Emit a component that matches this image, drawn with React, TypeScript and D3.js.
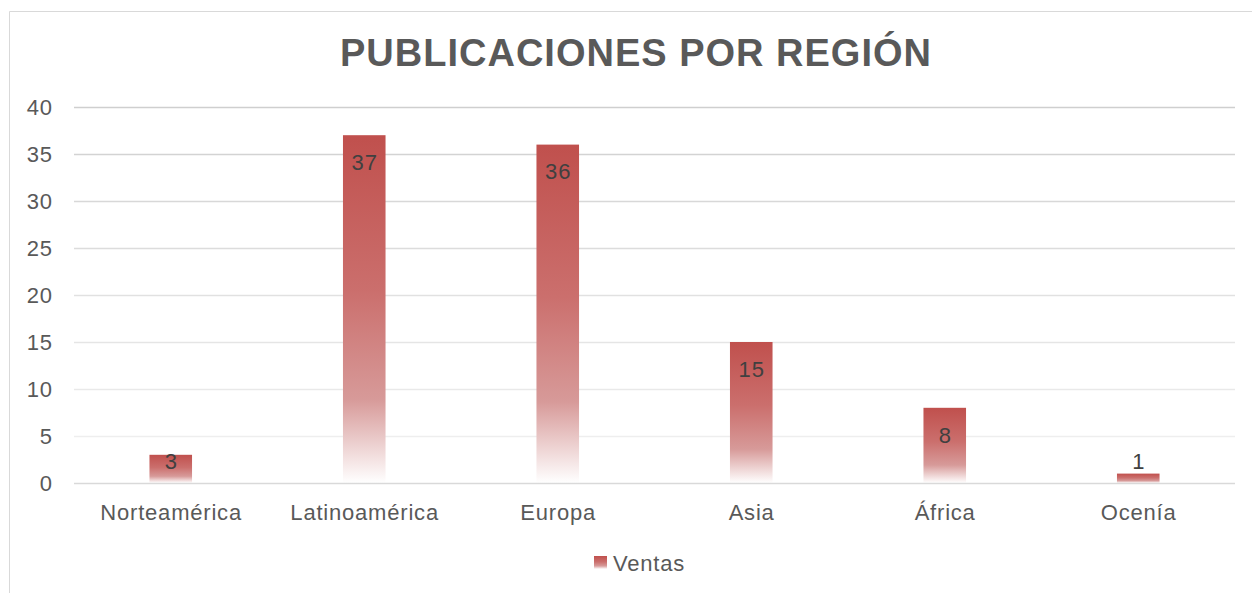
import React from "react";
import * as d3 from "d3";

const categories = ["Norteamérica", "Latinoamérica", "Europa", "Asia", "África", "Ocenía"];
const values = [3, 37, 36, 15, 8, 1];
const yTicks = [0, 5, 10, 15, 20, 25, 30, 35, 40];
const seriesName = "Ventas";
const title = "PUBLICACIONES POR REGIÓN";

const W = 1252;
const H = 593;
const margin = { left: 74, right: 17, top: 107, bottom: 110 };

export default function App() {
  const x = d3
    .scaleBand<string>()
    .domain(categories)
    .range([margin.left, W - margin.right])
    .paddingInner(0.78)
    .paddingOuter(0.39);
  const y = d3.scaleLinear().domain([0, 40]).range([H - margin.bottom, margin.top]);
  const gridColor = d3.scaleLinear<string>().domain([0, 40]).range(["#f2f2f2", "#cfcfcf"]);
  const font = "Arial, 'Liberation Sans', sans-serif";
  const base = y(0);
  const ls = 0.8;
  return (
    <svg width={W} height={H} style={{ position: "absolute", left: 0, top: 0 }} fontFamily={font}>
      <defs>
        <linearGradient id="barGrad" x1="0" y1="0" x2="0" y2="1">
          <stop offset="0%" stopColor="#C0504D" />
          <stop offset="45%" stopColor="#CB6F6D" />
          <stop offset="76%" stopColor="#D79A99" />
          <stop offset="100%" stopColor="#FFFFFF" />
        </linearGradient>
      </defs>
      <rect x={0} y={0} width={W} height={H} fill="#fff" />
      <path d={`M9.5,${H} V11.5 H${W}`} fill="none" stroke="#d9d9d9" strokeWidth={1} />
      <text x={636} y={66} textAnchor="middle" fontSize={38} fontWeight="bold" fill="#595959" letterSpacing={1}>
        {title}
      </text>
      {yTicks.map((t) => (
        <g key={t}>
          {t > 0 && (
            <line x1={margin.left} x2={W - margin.right} y1={Math.round(y(t)) + 0.5} y2={Math.round(y(t)) + 0.5} stroke={gridColor(t)} strokeWidth={1.5} />
          )}
          <text x={52 + ls} y={y(t)} dy="0.35em" textAnchor="end" fontSize={22} fill="#595959" letterSpacing={ls}>
            {t}
          </text>
        </g>
      ))}
      {values.map((v, i) => {
        const c = categories[i];
        const top = y(v);
        const cy = Math.min(top + 27, base - 22);
        return (
          <g key={c}>
            <rect x={x(c)} y={top} width={x.bandwidth()} height={base - top} fill="url(#barGrad)" />
            <text x={(x(c) as number) + x.bandwidth() / 2 + ls / 2} y={cy} dy="0.35em" textAnchor="middle" fontSize={22} fill="#404040" letterSpacing={ls}>
              {v}
            </text>
          </g>
        );
      })}
      <line x1={margin.left} x2={W - margin.right} y1={base + 0.5} y2={base + 0.5} stroke="#d9d9d9" strokeWidth={1.5} />
      {categories.map((c) => (
        <text key={c} x={(x(c) as number) + x.bandwidth() / 2 + ls / 2} y={512} dy="0.35em" textAnchor="middle" fontSize={22} fill="#595959" letterSpacing={ls}>
          {c}
        </text>
      ))}
      <rect x={594} y={556} width={13} height={13} fill="url(#barGrad)" />
      <text x={613} y={563} dy="0.35em" fontSize={22} fill="#595959" letterSpacing={ls}>
        {seriesName}
      </text>
    </svg>
  );
}
